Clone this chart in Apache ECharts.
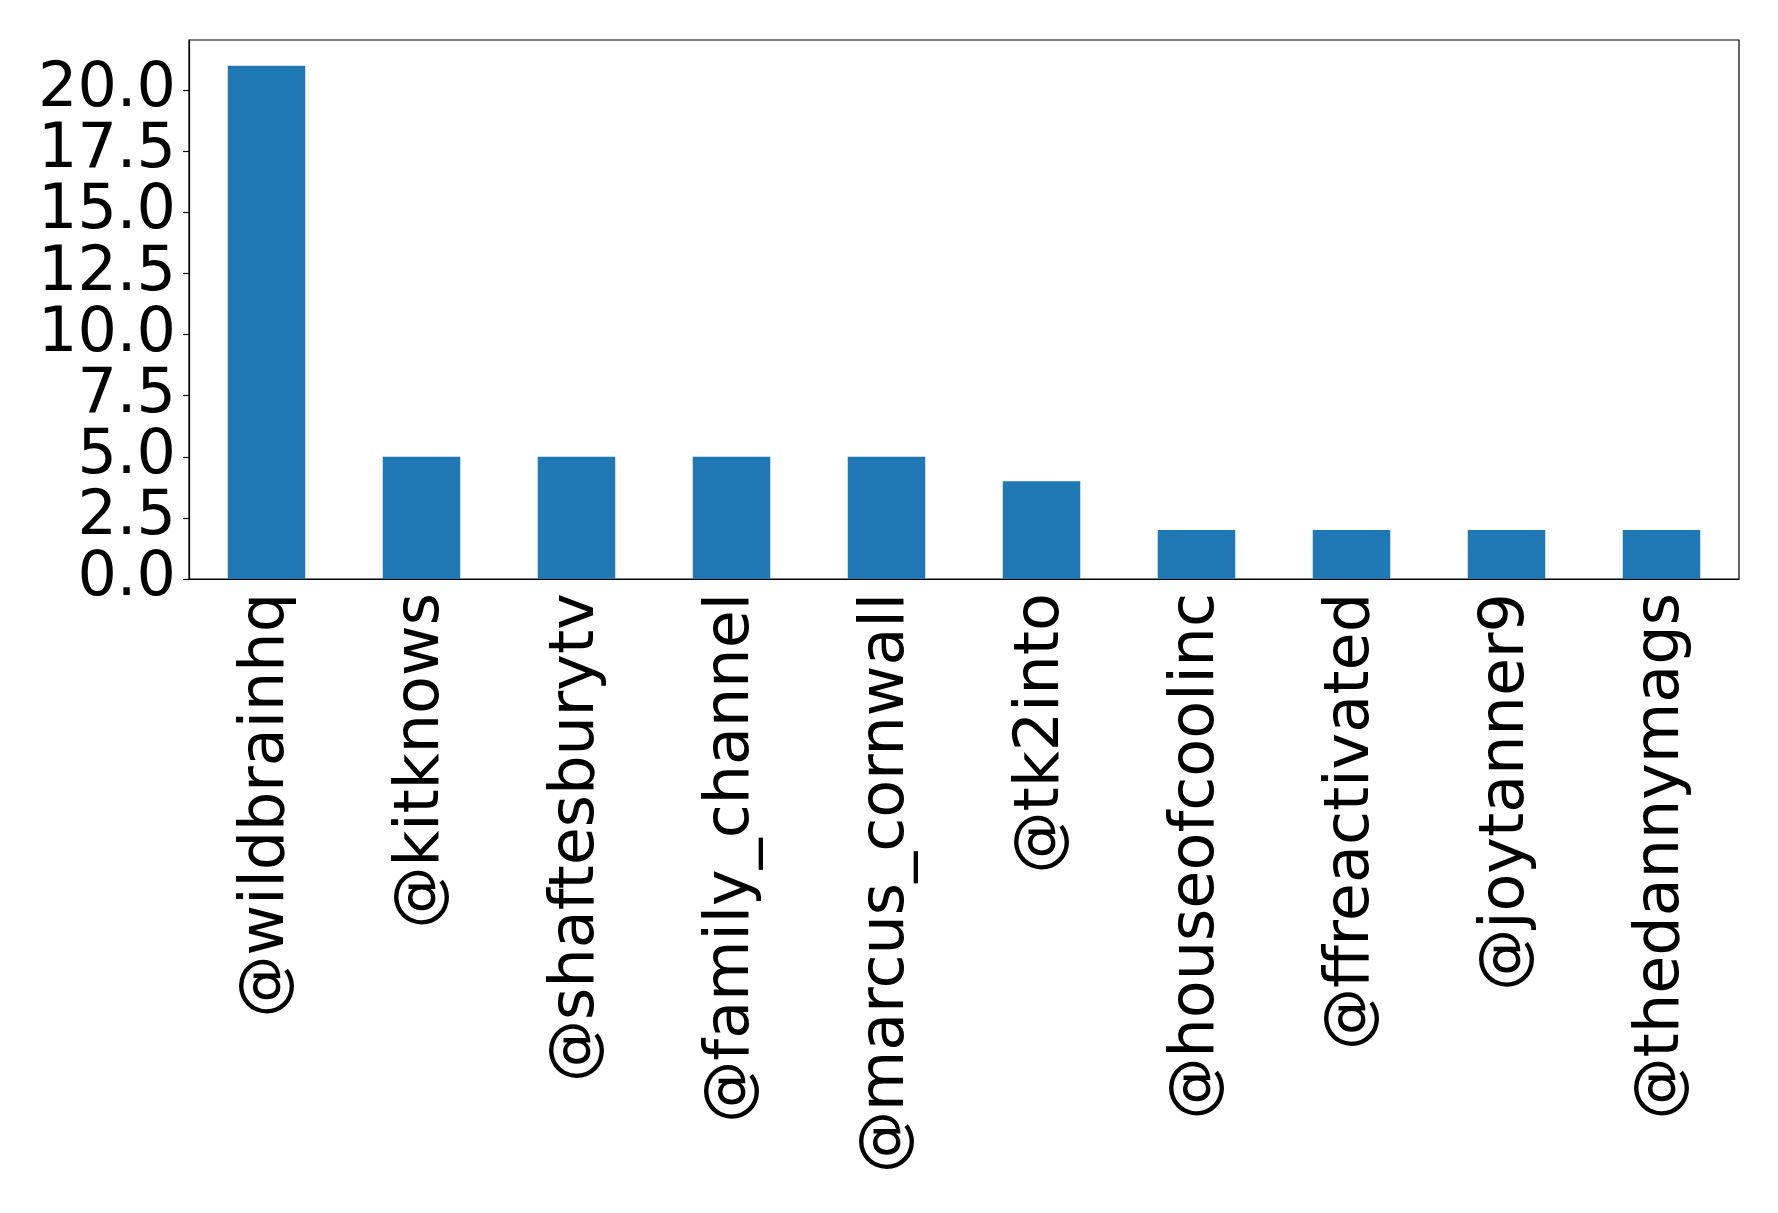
<!DOCTYPE html>
<html><head><meta charset="utf-8">
<script src="https://cdn.jsdelivr.net/npm/echarts@6/dist/echarts.min.js"></script>
<style>html,body{margin:0;padding:0;background:#fff}#c{width:1778px;height:1213px}</style>
</head><body><div id="c"></div>
<script>
var categories = ['@wildbrainhq','@kitknows','@shaftesburytv','@family_channel','@marcus_cornwall','@tk2into','@houseofcoolinc','@ffreactivated','@joytanner9','@thedannymags'];
var values = [21, 5, 5, 5, 5, 4, 2, 2, 2, 2];
var yMax = 22.05;
var chart = echarts.init(document.getElementById('c'), null, {renderer:'canvas'});
var font = 'DejaVu Sans';
function yAxisDef(evenLabels, showLine) {
  return {
    type: 'value', min: 0, max: yMax, interval: 2.5, position: 'left',
    splitLine: {show: false},
    axisLine: {show: showLine, onZero: false, lineStyle: {color: '#000', width: 1.2}},
    axisTick: {show: showLine, length: 6, lineStyle: {color: '#000', width: 1.2}},
    axisLabel: {fontFamily: font, fontSize: 62, color: '#000', margin: 13, showMaxLabel: false, showMinLabel: true, hideOverlap: false,
      formatter: function(v){
        var k = Math.round(v * 10);
        if (k % 25 !== 0) return '';
        var odd = (k / 25) % 2 === 1;
        return (odd !== evenLabels) ? v.toFixed(1) : '';
      }}
  };
}
chart.setOption({
  animation: false,
  backgroundColor: '#fff',
  grid: {left: 189, top: 40, right: 39, bottom: 634, show: true, borderColor: '#000', borderWidth: 1.2, backgroundColor: 'transparent'},
  xAxis: {
    type: 'category', data: categories, boundaryGap: true,
    axisLine: {lineStyle: {color: '#000', width: 1.2}},
    axisTick: {alignWithLabel: true, length: 6, lineStyle: {color: '#000', width: 1.2}},
    axisLabel: {rotate: 90, fontFamily: font, fontSize: 62, color: '#000', margin: 14, interval: 0}
  },
  yAxis: [yAxisDef(true, true), yAxisDef(false, false)],
  series: [{type: 'bar', data: values, barWidth: '50%', yAxisIndex: 0, itemStyle: {color: '#1f77b4'}}]
});
</script></body></html>
